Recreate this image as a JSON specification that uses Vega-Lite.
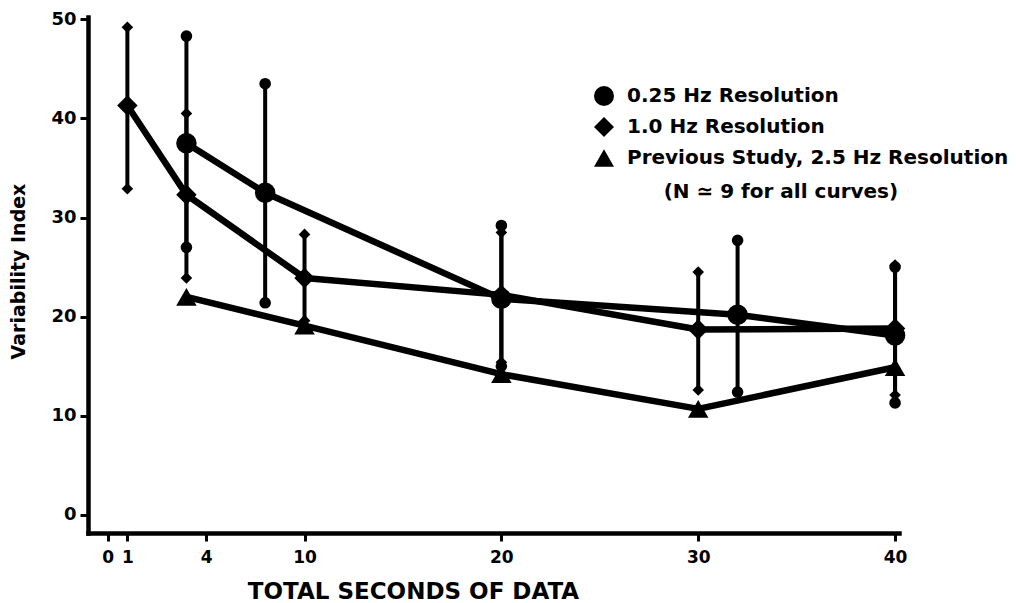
{
  "$schema": "https://vega.github.io/schema/vega-lite/v6.json",
  "width": 811,
  "height": 516,
  "autosize": "none",
  "padding": {"left": 88, "top": 17, "right": 117, "bottom": 70},
  "background": "white",
  "config": {
    "view": {"stroke": null},
    "font": "DejaVu Sans",
    "axis": {
      "grid": false,
      "domainColor": "black",
      "domainWidth": 4.5,
      "domainCap": "square",
      "tickColor": "black",
      "tickWidth": 3,
      "tickSize": 8,
      "labelColor": "black",
      "labelFont": "DejaVu Sans",
      "labelFontWeight": "bold",
      "titleColor": "black",
      "titleFont": "DejaVu Sans",
      "titleFontWeight": "bold",
      "labelFlush": false,
      "labelOverlap": false
    },
    "legend": {
      "orient": "none",
      "legendX": 506,
      "legendY": 69,
      "padding": 0,
      "symbolSize": 400,
      "symbolFillColor": "black",
      "symbolStrokeColor": "black",
      "symbolStrokeWidth": 0,
      "symbolOpacity": 1,
      "labelFont": "DejaVu Sans",
      "labelFontWeight": "bold",
      "labelFontSize": 20,
      "labelColor": "black",
      "labelOffset": 13,
      "labelLimit": 600,
      "rowPadding": 11
    }
  },
  "datasets": {
    "points": [
      {"series": "0.25 Hz Resolution", "x": 4, "mean": 37.5, "lo": 27.0, "hi": 48.3},
      {"series": "0.25 Hz Resolution", "x": 8, "mean": 32.5, "lo": 21.4, "hi": 43.5},
      {"series": "0.25 Hz Resolution", "x": 20, "mean": 21.8, "lo": 15.0, "hi": 29.2},
      {"series": "0.25 Hz Resolution", "x": 32, "mean": 20.2, "lo": 12.4, "hi": 27.7},
      {"series": "0.25 Hz Resolution", "x": 40, "mean": 18.1, "lo": 11.3, "hi": 25.0},
      {"series": "1.0 Hz Resolution", "x": 1, "mean": 41.3, "lo": 32.9, "hi": 49.2},
      {"series": "1.0 Hz Resolution", "x": 4, "mean": 32.3, "lo": 23.9, "hi": 40.5},
      {"series": "1.0 Hz Resolution", "x": 10, "mean": 23.9, "lo": 19.6, "hi": 28.3},
      {"series": "1.0 Hz Resolution", "x": 20, "mean": 22.2, "lo": 15.4, "hi": 28.5},
      {"series": "1.0 Hz Resolution", "x": 30, "mean": 18.7, "lo": 12.6, "hi": 24.5},
      {"series": "1.0 Hz Resolution", "x": 40, "mean": 18.8, "lo": 12.1, "hi": 25.2},
      {"series": "Previous Study, 2.5 Hz Resolution", "x": 4, "mean": 22.0, "lo": null, "hi": null},
      {"series": "Previous Study, 2.5 Hz Resolution", "x": 10, "mean": 19.1, "lo": null, "hi": null},
      {"series": "Previous Study, 2.5 Hz Resolution", "x": 20, "mean": 14.2, "lo": null, "hi": null},
      {"series": "Previous Study, 2.5 Hz Resolution", "x": 30, "mean": 10.7, "lo": null, "hi": null},
      {"series": "Previous Study, 2.5 Hz Resolution", "x": 40, "mean": 14.9, "lo": null, "hi": null}
    ],
    "notes": [
      {"note": "(N ≃ 9 for all curves)", "nx": 34.2, "ny": 32.6}
    ]
  },
  "layer": [
    {
      "data": {"name": "points"},
      "transform": [{"filter": "datum.hi != null"}],
      "mark": {"type": "rule", "color": "black", "strokeWidth": 4},
      "encoding": {
        "x": {
          "field": "x",
          "type": "quantitative",
          "scale": {"domain": [-1, 40.2], "nice": false, "zero": false},
          "axis": {
            "values": [0, 1, 5, 10, 20, 30, 40],
            "labelExpr": "datum.value == 5 ? '4' : datum.label",
            "labelFontSize": 17,
            "labelPadding": 8,
            "title": "TOTAL SECONDS OF DATA",
            "titleFontSize": 23,
            "titleX": 325,
            "titleY": 58,
            "titleAlign": "center",
            "titleBaseline": "middle"
          }
        },
        "y": {
          "field": "lo",
          "type": "quantitative",
          "scale": {"domain": [-1.82, 50.23], "nice": false, "zero": false},
          "axis": {
            "values": [0, 10, 20, 30, 40, 50],
            "labelFontSize": 18,
            "labelPadding": 4,
            "title": "Variability Index",
            "titleFontSize": 19,
            "titleX": -70,
            "titleY": 254,
            "titleAngle": 270,
            "titleAlign": "center",
            "titleBaseline": "middle"
          }
        },
        "y2": {"field": "hi"}
      }
    },
    {
      "data": {"name": "points"},
      "mark": {"type": "line", "color": "black", "strokeWidth": 6.5, "strokeJoin": "round", "strokeCap": "round"},
      "encoding": {
        "x": {"field": "x", "type": "quantitative", "title": "TOTAL SECONDS OF DATA"},
        "y": {"field": "mean", "type": "quantitative", "title": "Variability Index"},
        "detail": {"field": "series"}
      }
    },
    {
      "data": {"name": "points"},
      "transform": [
        {"filter": "datum.hi != null"},
        {"fold": ["lo", "hi"], "as": ["end", "val"]}
      ],
      "mark": {"type": "point", "filled": true, "color": "black", "opacity": 1, "size": 135},
      "encoding": {
        "x": {"field": "x", "type": "quantitative", "title": "TOTAL SECONDS OF DATA"},
        "y": {"field": "val", "type": "quantitative", "title": "Variability Index"},
        "shape": {
          "field": "series",
          "type": "nominal",
          "title": null,
          "scale": {
            "domain": ["0.25 Hz Resolution", "1.0 Hz Resolution", "Previous Study, 2.5 Hz Resolution"],
            "range": ["circle", "diamond", "triangle-up"]
          }
        }
      }
    },
    {
      "data": {"name": "points"},
      "mark": {"type": "point", "filled": true, "color": "black", "opacity": 1, "size": 420},
      "encoding": {
        "x": {"field": "x", "type": "quantitative", "title": "TOTAL SECONDS OF DATA"},
        "y": {"field": "mean", "type": "quantitative", "title": "Variability Index"},
        "shape": {
          "field": "series",
          "type": "nominal",
          "title": null,
          "scale": {
            "domain": ["0.25 Hz Resolution", "1.0 Hz Resolution", "Previous Study, 2.5 Hz Resolution"],
            "range": ["circle", "diamond", "triangle-up"]
          }
        }
      }
    },
    {
      "data": {"name": "notes"},
      "mark": {"type": "text", "font": "DejaVu Sans", "fontWeight": "bold", "fontSize": 20, "color": "black", "align": "center", "baseline": "middle"},
      "encoding": {
        "x": {"field": "nx", "type": "quantitative", "title": "TOTAL SECONDS OF DATA"},
        "y": {"field": "ny", "type": "quantitative", "title": "Variability Index"},
        "text": {"field": "note"}
      }
    }
  ]
}
